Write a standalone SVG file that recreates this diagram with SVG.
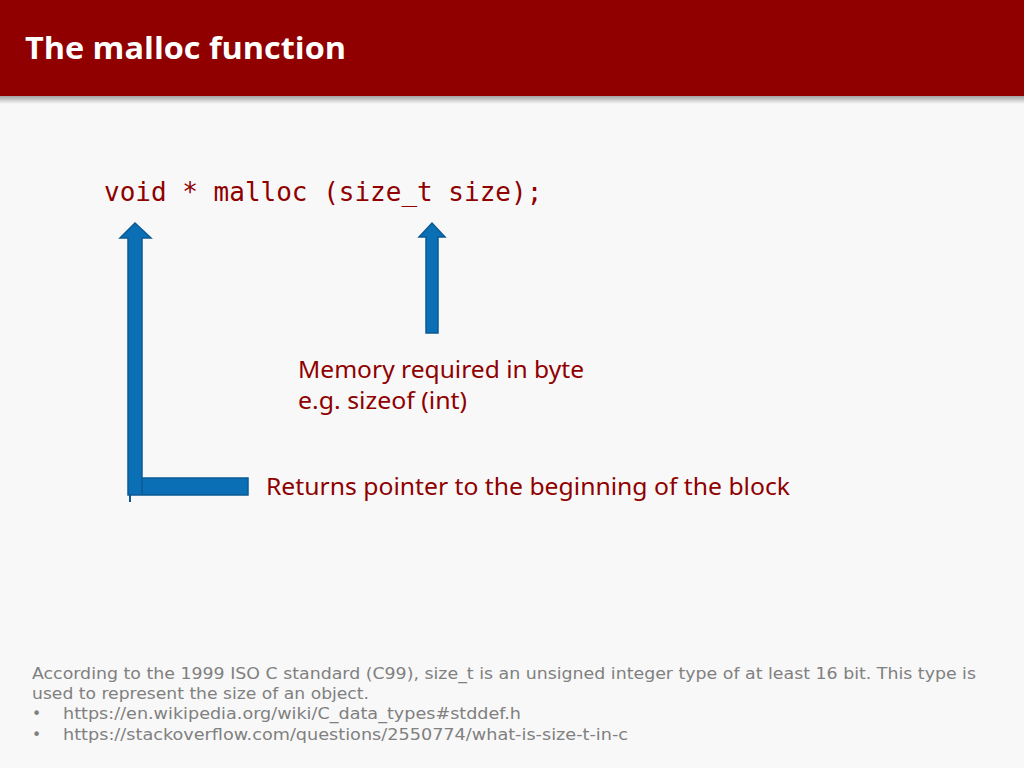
<svg xmlns="http://www.w3.org/2000/svg" width="1024" height="768" viewBox="0 0 1024 768">
<defs>
<linearGradient id="shadow" x1="0" y1="0" x2="0" y2="1">
<stop offset="0" stop-color="#000" stop-opacity="0.35"/>
<stop offset="1" stop-color="#000" stop-opacity="0"/>
</linearGradient>
<style>
.title{font-family:"Open Sans","DejaVu Sans",sans-serif;font-weight:bold;font-size:31px;fill:#ffffff}
.code{font-family:"DejaVu Sans Mono","Liberation Mono",monospace;font-size:26px;fill:#8f0000}
.lbl{font-family:"Noto Sans","Open Sans",sans-serif;font-size:24px;fill:#8f0000}
.note{font-family:"DejaVu Sans","Liberation Sans",sans-serif;font-size:15.5px;fill:#808080}
.arrow{fill:#0a6fb5;stroke:#0b5a94;stroke-width:1.5}
</style>
</defs>
<rect width="1024" height="768" fill="#f8f8f8"/>
<g id="header">
<rect x="0" y="96" width="1024" height="8" fill="url(#shadow)"/>
<rect x="0" y="0" width="1024" height="96" fill="#900000"/>
<text class="title" x="25" y="59" textLength="321" lengthAdjust="spacingAndGlyphs">The malloc function</text>
</g>
<g id="code">
<text class="code" x="104" y="201">void * malloc (size_t size);</text>
</g>
<g id="connectors">
<path class="arrow" d="M128,495 L128,238 L120,238 L135,223 L151,238 L142,238 L142,478 L248,478 L248,495 Z"/>
<line x1="142" y1="478" x2="142" y2="495" stroke="#0b5a94" stroke-width="1.5"/>
<line x1="130" y1="495" x2="130" y2="502" stroke="#0b5a94" stroke-width="2"/>
<path class="arrow" d="M426,333 L426,237 L419,237 L432,223 L445,237 L438,237 L438,333 Z"/>
</g>
<g id="label-size">
<text class="lbl" x="298" y="378" textLength="286" lengthAdjust="spacingAndGlyphs">Memory required in byte</text>
<text class="lbl" x="298" y="409" textLength="169" lengthAdjust="spacingAndGlyphs">e.g. sizeof (int)</text>
</g>
<g id="label-return">
<text class="lbl" x="266" y="495" textLength="524" lengthAdjust="spacingAndGlyphs">Returns pointer to the beginning of the block</text>
</g>
<g id="footnote">
<text class="note" x="32" y="679" textLength="944" lengthAdjust="spacingAndGlyphs">According to the 1999 ISO C standard (C99), size_t is an unsigned integer type of at least 16 bit. This type is</text>
<text class="note" x="32" y="699" textLength="337" lengthAdjust="spacingAndGlyphs">used to represent the size of an object.</text>
<text class="note" x="32" y="719">•</text>
<text class="note" x="63" y="719" textLength="458" lengthAdjust="spacingAndGlyphs">https://en.wikipedia.org/wiki/C_data_types#stddef.h</text>
<text class="note" x="32" y="740">•</text>
<text class="note" x="63" y="740" textLength="565" lengthAdjust="spacingAndGlyphs">https://stackoverflow.com/questions/2550774/what-is-size-t-in-c</text>
</g>
</svg>
